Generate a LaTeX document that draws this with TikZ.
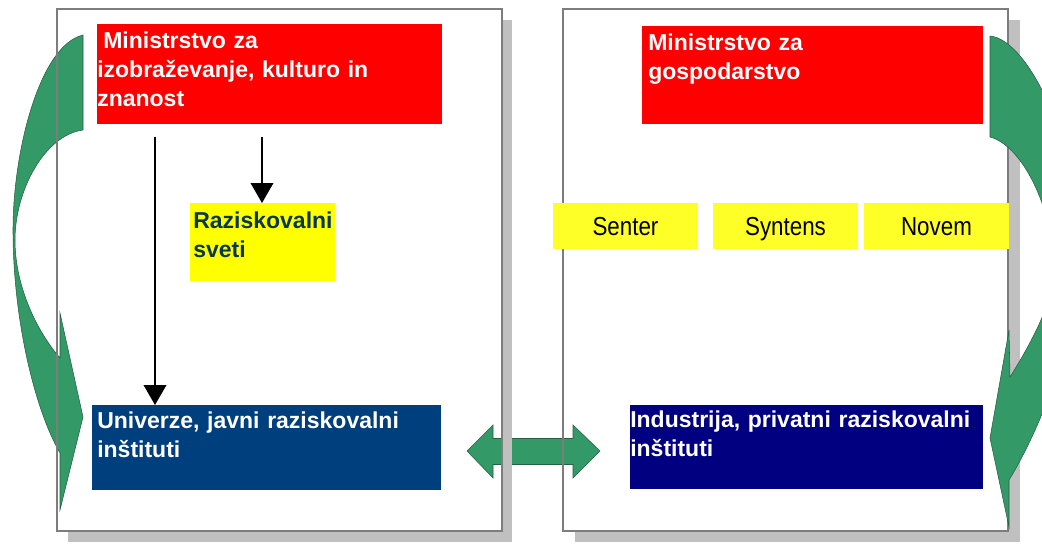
\documentclass[tikz,border=0pt]{standalone}
\usepackage{fontspec}
\setmainfont{Liberation Sans}
\usetikzlibrary{arrows.meta}
\definecolor{grn}{RGB}{51,153,102}
\definecolor{grnline}{RGB}{38,95,66}
\definecolor{frameg}{RGB}{125,125,125}
\definecolor{shadowg}{RGB}{192,192,192}
\definecolor{redb}{RGB}{255,0,0}
\definecolor{blueA}{RGB}{0,63,125}
\definecolor{blueB}{RGB}{0,0,128}
\definecolor{yelA}{RGB}{255,255,0}
\definecolor{yelB}{RGB}{255,255,40}
\definecolor{tealtxt}{RGB}{8,55,80}
\begin{document}
\begin{tikzpicture}[x=0.75pt,y=-0.75pt,
  box/.style={draw=none,inner sep=0,anchor=north west},
  bigtext/.style={anchor=base west,inner sep=0,text width=300pt,align=left,
    font=\bfseries\fontsize{17.25}{22.1}\selectfont},
  ylabel/.style={draw=none,fill=yelB,inner sep=0,minimum width=108.75pt,minimum height=34.5pt,
    text height=14pt,text depth=0pt,font=\fontsize{19.5}{22}\selectfont},
  arr/.style={line width=1.1pt,-{Triangle[width=17pt,length=15pt]}},
  grnarrow/.style={fill=grn,draw=grnline,line width=0.4pt,line join=miter},
  frame/.style={draw=frameg,line width=1pt},
  shadow/.style={fill=shadowg,draw=none}]
\useasboundingbox (0,0) rectangle (1042,543);
\fill[white] (0,0) rectangle (1042,543);

% left curved arrow (beneath frames)
\path[grnarrow] (83,35) .. controls (40,45) and (13,150) .. (13,230)
  .. controls (13,320) and (35,410) .. (60,453) -- (60,510) -- (83,417) -- (60,313) -- (60,358)
  .. controls (40,335) and (15,290) .. (15,240) .. controls (15,190) and (45,135) .. (83,130) -- cycle;

% boxes (needed for double arrow anchors)
\node[box,fill=blueA,minimum width=261.75pt,minimum height=63.75pt] (univ) at (92,405) {};
\node[box,fill=blueB,minimum width=264.75pt,minimum height=63pt] (ind) at (630,405) {};

% double arrow between univ and ind
\coordinate (dl) at (467,451);
\coordinate (dr) at (600,451);
\path[grnarrow] (dl) -- ++(26,-26) -- ++(0,13.5) -- ++(80,0) -- ++(0,-13.5) -- (dr)
  -- ++(-27,27) -- ++(0,-13.5) -- ++(-80,0) -- ++(0,13.5) -- cycle;

% shadows
\path[shadow] (502,20) rectangle (512,542);
\path[shadow] (68,531) rectangle (512,542);
\path[shadow] (1008,20) rectangle (1020,542);
\path[shadow] (575,531) rectangle (1020,542);
% frames
\draw[frame] (57,9) rectangle (502,531);
\draw[frame] (563,9) rectangle (1008,531);

% boxes
\node[box,fill=redb,minimum width=258.75pt,minimum height=75pt] (min1) at (97,24) {};
\node[box,fill=redb,minimum width=255.75pt,minimum height=73.5pt] (min2) at (642,26) {};
\node[box,fill=yelA,minimum width=108.75pt,minimum height=58.5pt] (rs) at (190,203) {};

\node[ylabel] (senter) at (625.5,226) {\scalebox{0.86}[1]{Senter}};
\node[ylabel] (syntens) at (785.5,226) {\scalebox{0.86}[1]{Syntens}};
\node[ylabel] (novem) at (936.5,226) {\scalebox{0.86}[1]{Novem}};

% texts
\node[bigtext,text=white] (t1) at (97,48) {\hspace*{4.5pt}Ministrstvo za\\izobraževanje, kulturo in\\znanost};
\node[bigtext,text=white] (t2) at (648,50) {Ministrstvo za\\gospodarstvo};
\node[bigtext,text=tealtxt] (t3) at (193,228) {Raziskovalni\\sveti};
\node[bigtext,text=white] (t4) at (97,428) {Univerze, javni raziskovalni\\inštituti};
\node[bigtext,text=white] (t5) at (630,427) {Industrija, privatni raziskovalni\\inštituti};

% connectors
\coordinate (a1) at ([shift={(58,12)}]min1.south west);
\coordinate (a2) at ([shift={(165,12)}]min1.south west);
\draw[arr] (a1) -- (a1 |- univ.north);
\draw[arr] (a2) -- (a2 |- rs.north);

% right curved arrow (clipped at picture edge)
\begin{scope}
\clip (0,0) rectangle (1042,543);
\path[grnarrow] (990,36) .. controls (1030,40) and (1080,150) .. (1080,250)
  .. controls (1080,330) and (1040,430) .. (1009,480) -- (1009,527) -- (990,438) -- (1009,330) -- (1010,377)
  .. controls (1030,345) and (1055,300) .. (1055,265) .. controls (1050,200) and (1020,145) .. (990,137) -- cycle;
\end{scope}
\end{tikzpicture}
\end{document}
